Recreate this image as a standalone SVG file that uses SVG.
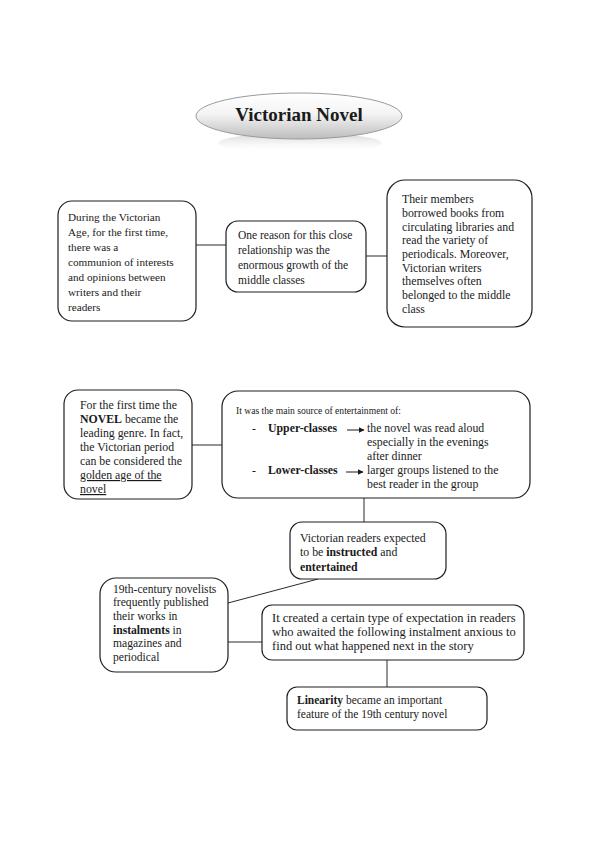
<svg xmlns="http://www.w3.org/2000/svg" width="595" height="842" viewBox="0 0 595 842">
<defs>
<linearGradient id="tg" x1="0" y1="0" x2="0" y2="1">
<stop offset="0" stop-color="#ffffff"/>
<stop offset="0.45" stop-color="#f4f4f4"/>
<stop offset="1" stop-color="#bdbdbd"/>
</linearGradient>
<linearGradient id="rg" x1="0" y1="0" x2="0" y2="1">
<stop offset="0" stop-color="#c8c8c8" stop-opacity="0.8"/>
<stop offset="1" stop-color="#ffffff" stop-opacity="0"/>
</linearGradient>
<marker id="ah" viewBox="0 0 10 10" refX="9" refY="5" markerWidth="6" markerHeight="6" orient="auto" markerUnits="userSpaceOnUse">
<path d="M0,0 L10,5 L0,10 z" fill="#1a1a1a"/>
</marker>
</defs>
<style>
.box{fill:#ffffff;stroke:#1e1e1e;stroke-width:1.2}
.con line{stroke:#2a2a2a;stroke-width:1}
text{font-family:"Liberation Serif","Times New Roman",serif;fill:#1a1a1a}
.b{font-weight:bold}
.u{text-decoration:underline}
.arr{stroke:#1a1a1a;stroke-width:1;marker-end:url(#ah)}
</style>
<rect width="595" height="842" fill="#ffffff"/>

<g id="title">
<ellipse cx="300" cy="143" rx="82" ry="10" fill="url(#rg)"/>
<ellipse cx="299" cy="116" rx="103" ry="23" fill="url(#tg)" stroke="#9a9a9a" stroke-width="1"/>
<text x="299" y="121" text-anchor="middle" class="b" font-size="19">Victorian Novel</text>
</g>

<g id="connectors" class="con">
<line x1="196" y1="245" x2="226" y2="245"/>
<line x1="366" y1="256" x2="387" y2="256"/>
<line x1="192" y1="445" x2="222" y2="445"/>
<line x1="364" y1="498" x2="364" y2="522"/>
<line x1="318" y1="579" x2="228" y2="603"/>
<line x1="228" y1="642" x2="262" y2="642"/>
<line x1="387" y1="660" x2="387" y2="687"/>
</g>

<g id="n1">
<rect class="box" x="58" y="201" width="138" height="120" rx="14"/>
<text font-size="11.2">
<tspan x="68" y="221">During the Victorian</tspan>
<tspan x="68" y="236">Age, for the first time,</tspan>
<tspan x="68" y="251">there was a</tspan>
<tspan x="68" y="266">communion of interests</tspan>
<tspan x="68" y="281">and opinions between</tspan>
<tspan x="68" y="296">writers and their</tspan>
<tspan x="68" y="311">readers</tspan>
</text>
</g>

<g id="n2">
<rect class="box" x="226" y="221" width="140" height="71" rx="12"/>
<text font-size="11.5">
<tspan x="238" y="239">One reason for this close</tspan>
<tspan x="238" y="254">relationship was the</tspan>
<tspan x="238" y="269">enormous growth of the</tspan>
<tspan x="238" y="284">middle classes</tspan>
</text>
</g>

<g id="n3">
<rect class="box" x="387" y="180" width="145" height="147" rx="18"/>
<text font-size="11.8">
<tspan x="402" y="203">Their members</tspan>
<tspan x="402" y="217">borrowed books from</tspan>
<tspan x="402" y="231">circulating libraries and</tspan>
<tspan x="402" y="244">read the variety of</tspan>
<tspan x="402" y="258">periodicals. Moreover,</tspan>
<tspan x="402" y="272">Victorian writers</tspan>
<tspan x="402" y="285">themselves often</tspan>
<tspan x="402" y="299">belonged to the middle</tspan>
<tspan x="402" y="313">class</tspan>
</text>
</g>

<g id="n4">
<rect class="box" x="64" y="390" width="128" height="109" rx="14"/>
<text font-size="11.8">
<tspan x="80" y="409">For the first time the</tspan>
<tspan x="80" y="423"><tspan class="b">NOVEL</tspan> became the</tspan>
<tspan x="80" y="437">leading genre. In fact,</tspan>
<tspan x="80" y="451">the Victorian period</tspan>
<tspan x="80" y="465">can be considered the</tspan>
<tspan x="80" y="479" class="u">golden age of the</tspan>
<tspan x="80" y="493" class="u">novel</tspan>
</text>
</g>

<g id="n5">
<rect class="box" x="222" y="391" width="308" height="107" rx="16"/>
<text x="236" y="414" font-size="9.6">It was the main source of entertainment of:</text>
<text font-size="11.8">
<tspan x="252" y="432">-</tspan>
<tspan x="268" y="432" class="b">Upper-classes</tspan>
<tspan x="367" y="432">the novel was read aloud</tspan>
<tspan x="367" y="446">especially in the evenings</tspan>
<tspan x="367" y="460">after dinner</tspan>
<tspan x="252" y="474">-</tspan>
<tspan x="268" y="474" class="b">Lower-classes</tspan>
<tspan x="367" y="474">larger groups listened to the</tspan>
<tspan x="367" y="488">best reader in the group</tspan>
</text>
<line class="arr" x1="347" y1="430" x2="364" y2="430"/>
<line class="arr" x1="346" y1="472" x2="363" y2="472"/>
</g>

<g id="n6">
<rect class="box" x="290" y="522" width="156" height="57" rx="12"/>
<text font-size="11.8">
<tspan x="300" y="542">Victorian readers expected</tspan>
<tspan x="300" y="556">to be <tspan class="b">instructed</tspan> and</tspan>
<tspan x="300" y="571" class="b">entertained</tspan>
</text>
</g>

<g id="n7">
<rect class="box" x="100" y="578" width="128" height="94" rx="16"/>
<text font-size="11.6">
<tspan x="113" y="593">19th-century novelists</tspan>
<tspan x="113" y="606">frequently published</tspan>
<tspan x="113" y="620">their works in</tspan>
<tspan x="113" y="634"><tspan class="b">instalments</tspan> in</tspan>
<tspan x="113" y="647">magazines and</tspan>
<tspan x="113" y="661">periodical</tspan>
</text>
</g>

<g id="n8">
<rect class="box" x="262" y="605" width="262" height="55" rx="10"/>
<text font-size="12.5">
<tspan x="272" y="622">It created a certain type of expectation in readers</tspan>
<tspan x="272" y="636">who awaited the following instalment anxious to</tspan>
<tspan x="272" y="650">find out what happened next in the story</tspan>
</text>
</g>

<g id="n9">
<rect class="box" x="287" y="687" width="200" height="43" rx="10"/>
<text font-size="11.5">
<tspan x="297" y="704"><tspan class="b">Linearity</tspan> became an important</tspan>
<tspan x="297" y="718">feature of the 19th century novel</tspan>
</text>
</g>
</svg>
